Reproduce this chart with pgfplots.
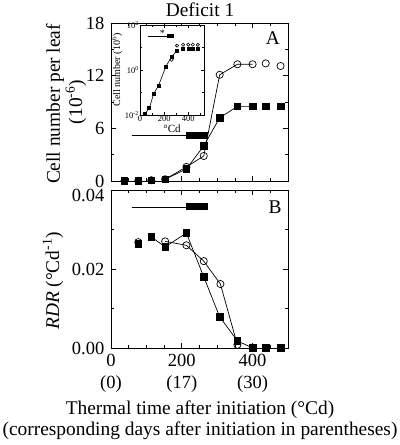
\documentclass[border=0pt]{standalone}
\usepackage{pgfplots}
\pgfplotsset{compat=1.18}
\usepackage{fontspec}
\setmainfont{Liberation Serif}
\pgfplotsset{
  panel/.style={
    scale only axis, width=177bp, height=158bp,
    xmin=0, xmax=500,
    xtick={0,200,400}, minor xtick={50,100,150,250,300,350,450},
    tick align=inside, major tick length=5bp, minor tick length=3bp,
    axis line style={line width=0.7bp},
    every tick/.style={black, line width=0.6bp},
    /pgf/number format/assume math mode=true,
    tick label style={font=\fontsize{18.5bp}{22bp}\selectfont},
    yticklabel style={inner ysep=0.5bp},
    clip=false,
  },
  sq/.style={black, line width=0.7bp, mark=square*, mark size=3.3bp, mark options={fill=black, solid}},
  ci/.style={black, line width=0.7bp, mark=o, mark size=3.6bp, mark options={fill=white, solid}},
}
\begin{document}
\fontsize{19.4bp}{22bp}\selectfont
\begin{tikzpicture}
\useasboundingbox (0,0) rectangle (400bp,-445bp);
% ---------- top panel ----------
\begin{axis}[panel, at={(111bp,-23bp)}, anchor=north west,
  ymin=0, ymax=18, ytick={0,6,12,18}, minor ytick={3,9,15},
  xticklabels={}]
\addplot[black, line width=0.7bp] coordinates {(60,5.24) (213,5.24)};
\addplot[black, line width=7bp] coordinates {(213,5.24) (273,5.24)};
% open circles
\addplot[ci, only marks] coordinates {(38,0.01) (77,0.02) (114,0.09) (437,13.4) (479,13.1)};
\addplot[ci] coordinates {(153,0.2) (213,1.6) (262,2.85) (307,12.1) (357,13.3) (400,13.3)};
% filled squares
\addplot[sq, only marks] coordinates {(38,0.01) (77,0.02) (114,0.09) (437,8.5) (479,8.5)};
\addplot[sq] coordinates {(153,0.2) (213,1.37) (262,4.0) (307,7.2) (357,8.5) (400,8.5)};
\node at (rel axis cs:0.915,0.905) {A};
\end{axis}
% ---------- inset ----------
\begin{axis}[scale only axis, width=64bp, height=90bp,
  at={(140bp,-25bp)}, anchor=north west,
  axis background/.style={fill=white},
  xmin=0, xmax=530, ymode=log, ymin=0.01, ymax=100,
  xtick={0,200,400}, minor xtick={100,300,500},
  ytick={0.01,1,100}, minor ytick={0.1,10},
  yticklabels={10\textsuperscript{-2},10\textsuperscript{0},10\textsuperscript{2}},
  tick align=inside, major tick length=3bp, minor tick length=2bp,
  axis line style={line width=0.6bp},
  every tick/.style={black, line width=0.5bp},
  /pgf/number format/assume math mode=true,
  tick label style={font=\fontsize{8.5bp}{9bp}\selectfont, inner sep=1bp},
  xlabel={°Cd}, xlabel style={font=\fontsize{11bp}{12bp}\selectfont, yshift=5bp},
  ylabel={Cell number (10\textsuperscript{6})}, ylabel style={font=\fontsize{10bp}{11bp}\selectfont, yshift=-5bp},
  clip=false]
\addplot[black, line width=0.6bp] coordinates {(65,32) (225,32)};
\addplot[black, line width=4bp] coordinates {(225,32) (285,32)};
\node[font=\fontsize{10bp}{10bp}\selectfont] at (axis cs:185,45) {*};
\addplot[black, line width=0.6bp, mark=o, mark size=1.6bp, mark options={fill=white}, only marks] coordinates {(262,2.85) (307,12.1) (357,13.3) (400,13.3) (437,13.4) (479,13.1)};
\addplot[black, line width=0.6bp, mark=square*, mark size=1.5bp] coordinates {(38,0.011) (77,0.02) (114,0.09) (153,0.2) (213,1.37) (262,4.0) (307,7.2)};
\addplot[black, mark=square*, mark size=1.5bp, only marks] coordinates {(357,8.5) (400,8.5) (437,8.5) (479,8.5)};
\end{axis}
% ---------- bottom panel ----------
\begin{axis}[panel, at={(111bp,-190bp)}, anchor=north west,
  ymin=0, ymax=0.04, ytick={0,0.02}, minor ytick={0.01,0.03},
  extra y ticks={0.04}, extra y tick labels={0.04},
  extra y tick style={yticklabel style={yshift=-5bp}},
  scaled y ticks=false,
  yticklabel style={/pgf/number format/fixed, /pgf/number format/fixed zerofill, /pgf/number format/precision=2},
  xticklabels={{0\\(0)},{200\\(17)},{400\\(30)}},
  xticklabel style={align=center}]
\addplot[black, line width=0.7bp] coordinates {(60,0.0357) (213,0.0357)};
\addplot[black, line width=7bp] coordinates {(213,0.0357) (273,0.0357)};
\addplot[sq, only marks] coordinates {(77,0.0263) (437,0) (479,0)};
\addplot[sq] coordinates {(114,0.0281) (153,0.0256) (213,0.0291) (262,0.018) (307,0.0079) (357,0.0018) (400,0)};
\addplot[ci, only marks] coordinates {(77,0.0268)};
\addplot[ci] coordinates {(153,0.027) (213,0.026) (262,0.022) (309,0.0162) (357,0.0008)};
\addplot[sq, only marks] coordinates {(400,0) (437,0) (479,0)};
\node at (rel axis cs:0.927,0.89) {B};
\end{axis}
% ---------- labels ----------
\node at (200bp,-10bp) {Deficit 1};
\node[rotate=90] at (55bp,-104bp) {Cell number per leaf};
\node[rotate=90] at (76bp,-102bp) {(10\textsuperscript{-6})};
\node[rotate=90] at (53bp,-281bp) {\textit{RDR} (°Cd\textsuperscript{-1})};
\node at (200bp,-410bp) {Thermal time after initiation (°Cd)};
\node at (200bp,-431bp) {(corresponding days after initiation in parentheses)};
\end{tikzpicture}
\end{document}
